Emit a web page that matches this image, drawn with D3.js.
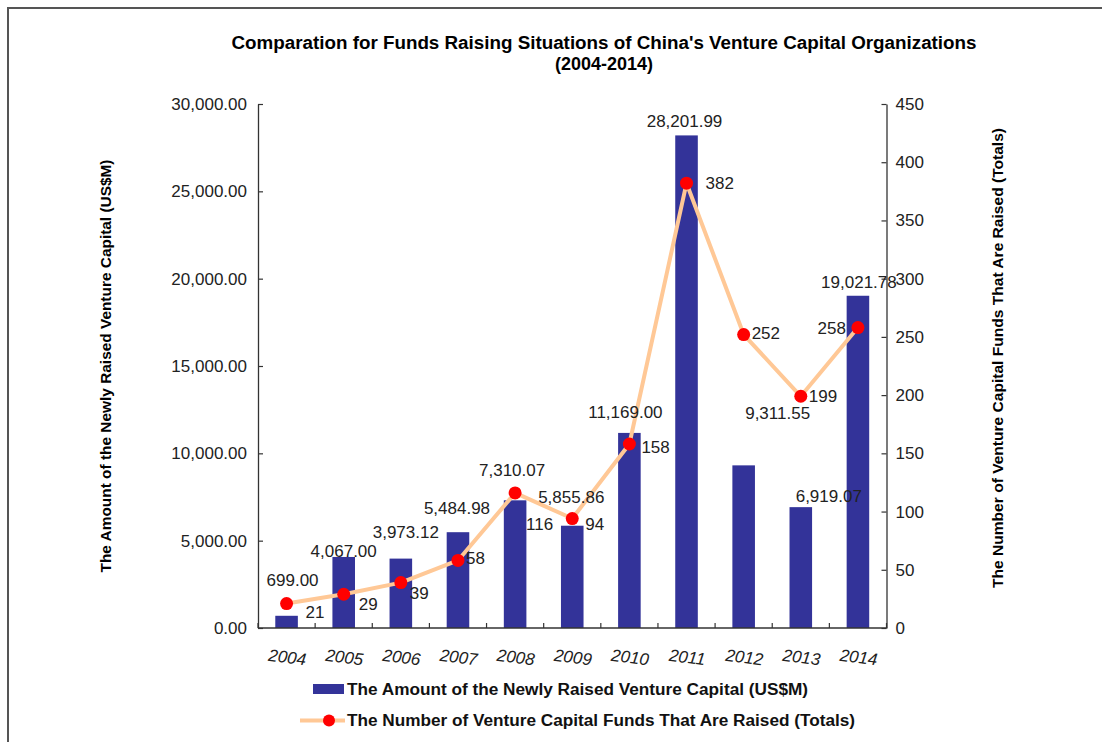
<!DOCTYPE html>
<html><head><meta charset="utf-8">
<script src="https://cdn.jsdelivr.net/npm/d3@7"></script>
<style>
html,body{margin:0;padding:0;background:#fff;}
text{font-family:"Liberation Sans",Arial,sans-serif;}
</style></head>
<body><svg id="chart" width="1102" height="742"></svg>
<script>
// ---- data ----
const years = ["2004","2005","2006","2007","2008","2009","2010","2011","2012","2013","2014"];
const amounts = [699.00, 4067.00, 3973.12, 5484.98, 7310.07, 5855.86, 11169.00, 28201.99, 9311.55, 6919.07, 19021.78];
const fundCounts = [21, 29, 39, 58, 116, 94, 158, 382, 252, 199, 258];
const leftTicks = [0, 5000, 10000, 15000, 20000, 25000, 30000];
const rightTicks = [0, 50, 100, 150, 200, 250, 300, 350, 400, 450];
const titleLines = ["Comparation for Funds Raising Situations of China's Venture Capital Organizations", "(2004-2014)"];
const leftTitle = "The Amount of the Newly Raised Venture Capital (US$M)";
const rightTitle = "The Number of Venture Capital Funds That Are Raised (Totals)";
const legendLabels = ["The Amount of the Newly Raised Venture Capital (US$M)", "The Number of Venture Capital Funds That Are Raised (Totals)"];

// ---- layout (label nudges, like manually placed labels in the original) ----
const barLabelNudge = [[6,-36],[0,-6],[5,-27],[-1,-24],[-3,-30],[-1,-29],[-4,-21],[-2,-14],[34,-52],[28,-11],[1,-14]];
const lineLabelNudge = [[19,8],[15,10],[9,10],[8,-2],[11,31],[13,5],[12,3],[19,0],[8,-2],[8,0],[-12,0]];
const lineLabelAnchor = ["start","start","start","start","start","start","start","start","start","start","end"];

const svg = d3.select("#chart");
const L = 258, R = 886.5, T = 104, B = 628;
const barColor = "#333399", lineColor = "#FFC896", dotColor = "#FF0000";
const numFont = 17, baseAdj = 6;

// frame
svg.append("path").attr("d","M8,742 L8,8 L1102,8").attr("fill","none").attr("stroke","#555").attr("stroke-width",2);

const x = d3.scaleBand().domain(years).range([L, R]).padding(0);
const yL = d3.scaleLinear().domain([0, 30000]).range([B, T]);
const yR = d3.scaleLinear().domain([0, 450]).range([B, T]);
const bw = x.bandwidth() * 0.395;
const cx = d => x(d) + x.bandwidth()/2;

// title
svg.append("g").selectAll("text").data(titleLines).join("text")
  .attr("x", 604).attr("y", (d,i) => 48.5 + i*21)
  .attr("text-anchor","middle").attr("font-weight","bold").attr("font-size",17.5).attr("fill","#000")
  .attr("textLength", (d,i) => i === 0 ? 745 : 98).attr("lengthAdjust","spacingAndGlyphs")
  .text(d => d);

// bars
svg.append("g").selectAll("rect").data(years).join("rect")
  .attr("x", d => cx(d) - bw/2).attr("width", bw)
  .attr("y", (d,i) => yL(amounts[i])).attr("height", (d,i) => B - yL(amounts[i]))
  .attr("fill", barColor);

// axes
const fmt2 = d3.format(",.2f");
const gL = svg.append("g").attr("transform", `translate(${L},0)`)
  .call(d3.axisLeft(yL).tickValues(leftTicks).tickFormat(fmt2).tickSizeInner(-5).tickSizeOuter(0).tickPadding(11));
const gR = svg.append("g").attr("transform", `translate(${R},0)`)
  .call(d3.axisRight(yR).tickValues(rightTicks).tickFormat(d3.format("d")).tickSizeInner(-5).tickSizeOuter(0).tickPadding(9));
[gL, gR].forEach(g => {
  g.select(".domain").attr("stroke","#333").attr("stroke-width",1.3);
  g.selectAll(".tick line").attr("stroke","#333").attr("stroke-width",1.2);
  g.selectAll(".tick text").attr("font-size",numFont).attr("fill","#222").attr("font-family","Liberation Sans, Arial, sans-serif");
});

// x axis
const gX = svg.append("g").attr("transform", `translate(0,${B})`);
gX.append("line").attr("x1", L).attr("x2", R).attr("stroke","#333").attr("stroke-width",1.3);
gX.selectAll("line.tk").data(d3.range(years.length + 1)).join("line").attr("class","tk")
  .attr("x1", i => L + i*x.step()).attr("x2", i => L + i*x.step()).attr("y1",0).attr("y2",-5)
  .attr("stroke","#333").attr("stroke-width",1.2);
gX.selectAll("text").data(years).join("text")
  .attr("transform", d => `translate(${cx(d)},${35}) rotate(7)`)
  .attr("text-anchor","middle").attr("font-size",17).attr("font-style","italic").attr("fill","#222")
  .text(d => d);

// line
const lineGen = d3.line().x((d,i) => cx(years[i])).y(d => yR(d));
svg.append("path").datum(fundCounts).attr("d", lineGen)
  .attr("fill","none").attr("stroke", lineColor).attr("stroke-width",4).attr("stroke-linejoin","round");
svg.append("g").selectAll("circle").data(fundCounts).join("circle")
  .attr("cx", (d,i) => cx(years[i])).attr("cy", d => yR(d)).attr("r", 6.5).attr("fill", dotColor);

// bar labels
svg.append("g").selectAll("text").data(amounts).join("text")
  .attr("x", (d,i) => cx(years[i]) + barLabelNudge[i][0])
  .attr("y", (d,i) => yL(d) + barLabelNudge[i][1] + baseAdj)
  .attr("text-anchor","middle").attr("font-size",numFont).attr("fill","#222")
  .text(d => fmt2(d));

// line labels
svg.append("g").selectAll("text").data(fundCounts).join("text")
  .attr("x", (d,i) => cx(years[i]) + lineLabelNudge[i][0])
  .attr("y", (d,i) => yR(d) + lineLabelNudge[i][1] + baseAdj)
  .attr("text-anchor", (d,i) => lineLabelAnchor[i]).attr("font-size",numFont).attr("fill","#222")
  .text(d => d);

// axis titles
svg.append("text").attr("transform","translate(111,366) rotate(-90)")
  .attr("text-anchor","middle").attr("font-weight","bold").attr("font-size",14.5).attr("fill","#000")
  .attr("textLength",413).attr("lengthAdjust","spacingAndGlyphs")
  .text(leftTitle);
svg.append("text").attr("transform","translate(1003,358) rotate(-90)")
  .attr("text-anchor","middle").attr("font-weight","bold").attr("font-size",14.5).attr("fill","#000")
  .attr("textLength",460).attr("lengthAdjust","spacingAndGlyphs")
  .text(rightTitle);

// legend
const lg = svg.append("g");
lg.append("rect").attr("x",313).attr("y",684).attr("width",31).attr("height",10).attr("fill",barColor);
lg.append("line").attr("x1",300).attr("x2",345).attr("y1",720.5).attr("y2",720.5).attr("stroke",lineColor).attr("stroke-width",4);
lg.append("circle").attr("cx",329).attr("cy",720.5).attr("r",6).attr("fill",dotColor);
lg.selectAll("text.lt").data(legendLabels).join("text").attr("class","lt")
  .attr("x",347).attr("y",(d,i) => 695 + i*31)
  .attr("font-weight","bold").attr("font-size",16).attr("fill","#111")
  .attr("textLength",(d,i) => i === 0 ? 461 : 508).attr("lengthAdjust","spacingAndGlyphs")
  .text(d => d);
</script></body></html>
